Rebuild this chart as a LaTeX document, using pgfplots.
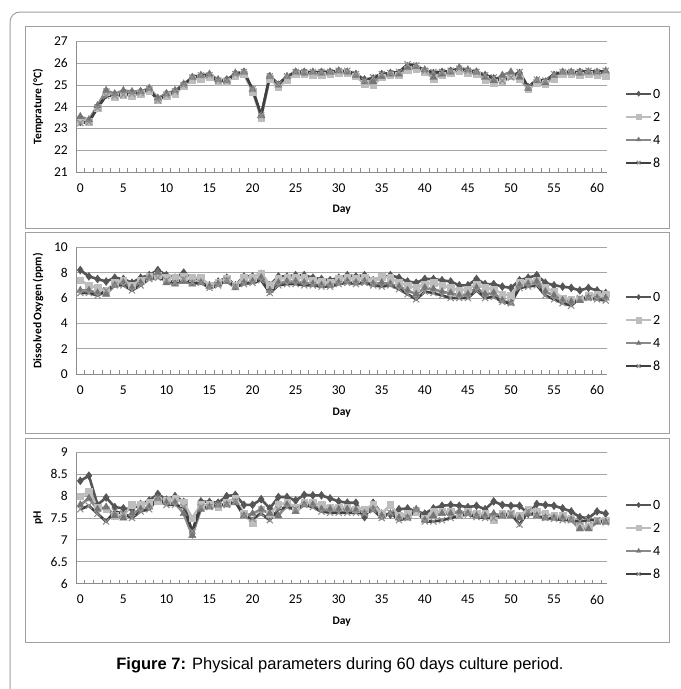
\documentclass[border=0pt]{standalone}
\usepackage{pgfplots}
\usepackage{pgfplotstable}
\pgfplotsset{compat=1.18}
\usepackage{fontspec}
\setmainfont{Carlito}
\newfontfamily\capfont{Liberation Sans}

\definecolor{cZero}{HTML}{555555}
\definecolor{cTwo}{HTML}{BDBDBD}
\definecolor{cFour}{HTML}{8A8A8A}
\definecolor{cEight}{HTML}{404040}
\definecolor{cEightX}{HTML}{8F8F8F}
\definecolor{axgray}{HTML}{8C8C8C}
\definecolor{gridgray}{HTML}{A6A6A6}
\definecolor{framegray}{HTML}{A0A0A0}

% temperature
\pgfplotstableread{
d s0 s2 s4 s8
0 23.3 23.4 23.55 23.25
1 23.35 23.3 23.4 23.3
2 24.0 23.95 24.05 23.95
3 24.55 24.7 24.75 24.5
4 24.55 24.45 24.6 24.5
5 24.6 24.55 24.75 24.55
6 24.6 24.5 24.7 24.6
7 24.7 24.6 24.7 24.65
8 24.8 24.75 24.85 24.8
9 24.35 24.3 24.4 24.3
10 24.6 24.5 24.6 24.55
11 24.7 24.6 24.75 24.7
12 25.0 24.95 25.05 25.0
13 25.35 25.25 25.35 25.35
14 25.4 25.3 25.45 25.45
15 25.45 25.35 25.5 25.45
16 25.2 25.15 25.25 25.2
17 25.25 25.15 25.2 25.2
18 25.5 25.4 25.55 25.5
19 25.6 25.5 25.6 25.6
20 24.75 24.7 24.8 24.8
21 23.6 23.5 23.6 23.6
22 25.4 25.3 25.4 25.4
23 25.0 24.9 25.0 25.05
24 25.35 25.25 25.4 25.4
25 25.6 25.5 25.6 25.6
26 25.6 25.5 25.55 25.6
27 25.55 25.45 25.6 25.6
28 25.6 25.45 25.55 25.6
29 25.6 25.5 25.6 25.6
30 25.65 25.55 25.65 25.65
31 25.6 25.55 25.6 25.65
32 25.5 25.4 25.45 25.5
33 25.25 25.05 25.15 25.2
34 25.3 25.0 25.15 25.35
35 25.5 25.35 25.4 25.5
36 25.55 25.45 25.5 25.55
37 25.55 25.45 25.5 25.6
38 25.85 25.7 25.8 25.95
39 25.85 25.75 25.85 25.9
40 25.65 25.6 25.7 25.65
41 25.55 25.3 25.35 25.6
42 25.6 25.45 25.5 25.6
43 25.65 25.55 25.6 25.65
44 25.7 25.65 25.8 25.75
45 25.65 25.55 25.7 25.65
46 25.6 25.5 25.6 25.6
47 25.45 25.25 25.35 25.45
48 25.3 25.1 25.2 25.35
49 25.2 25.2 25.45 25.2
50 25.45 25.4 25.6 25.35
51 25.55 25.3 25.35 25.6
52 24.9 24.8 24.85 24.9
53 25.2 25.1 25.2 25.25
54 25.15 25.05 25.1 25.2
55 25.45 25.3 25.45 25.5
56 25.55 25.5 25.6 25.6
57 25.55 25.5 25.6 25.6
58 25.6 25.45 25.55 25.6
59 25.6 25.5 25.6 25.65
60 25.55 25.45 25.6 25.6
61 25.6 25.4 25.65 25.65
}\temptab

% dissolved oxygen
\pgfplotstableread{
d s0 s2 s4 s8
0 8.2 7.4 6.6 6.4
1 7.7 7.0 6.6 6.4
2 7.5 6.8 6.4 6.2
3 7.3 6.6 6.3 6.6
4 7.6 7.2 7.0 7.0
5 7.5 7.4 7.2 7.0
6 7.2 7.0 6.8 6.6
7 7.6 7.4 7.2 7.0
8 7.8 7.7 7.6 7.5
9 8.2 7.8 8.0 7.6
10 7.8 7.6 7.2 7.4
11 7.6 7.6 7.1 7.2
12 8.0 7.7 7.3 7.5
13 7.5 7.6 7.1 7.2
14 7.5 7.6 7.2 7.2
15 7.0 7.0 6.9 6.8
16 7.3 7.2 7.1 7.0
17 7.6 7.5 7.3 7.4
18 7.0 7.0 6.8 6.9
19 7.7 7.6 7.2 7.1
20 7.7 7.6 7.3 7.2
21 7.9 7.9 7.6 7.4
22 7.0 7.0 6.6 6.4
23 7.7 7.5 7.2 7.0
24 7.7 7.6 7.3 7.1
25 7.8 7.6 7.3 7.1
26 7.8 7.6 7.2 7.0
27 7.6 7.4 7.1 7.0
28 7.5 7.3 7.0 6.9
29 7.4 7.2 7.0 6.9
30 7.6 7.5 7.2 7.1
31 7.8 7.6 7.3 7.2
32 7.7 7.5 7.2 7.1
33 7.8 7.6 7.3 7.2
34 7.4 7.4 7.1 7.0
35 7.6 7.7 7.2 6.9
36 7.8 7.6 7.1 7.0
37 7.6 7.2 6.9 6.7
38 7.3 7.0 6.6 6.3
39 7.2 6.8 6.3 5.9
40 7.5 7.1 6.8 6.5
41 7.5 7.2 6.7 6.4
42 7.4 7.0 6.5 6.2
43 7.3 6.8 6.4 6.0
44 7.0 6.6 6.2 6.0
45 7.0 6.7 6.3 6.0
46 7.5 7.1 6.8 6.6
47 7.1 6.8 6.3 6.0
48 7.1 6.7 6.4 6.1
49 6.9 6.3 5.8 5.7
50 6.8 6.2 5.6 5.6
51 7.4 7.2 7.0 6.8
52 7.6 7.3 7.1 6.9
53 7.8 7.4 7.3 7.0
54 7.2 6.8 6.5 6.2
55 7.0 6.5 6.2 5.9
56 6.9 6.0 5.8 5.6
57 6.8 5.9 5.7 5.4
58 6.6 5.9 5.8 6.0
59 6.8 6.2 6.0 6.0
60 6.6 6.3 6.0 5.9
61 6.4 6.3 6.0 5.8
}\dotab

% pH
\pgfplotstableread{
d s0 s2 s4 s8
0 8.35 8.0 7.8 7.7
1 8.47 8.1 7.95 7.78
2 7.8 7.75 7.7 7.6
3 7.97 7.7 7.75 7.42
4 7.75 7.55 7.55 7.65
5 7.72 7.55 7.5 7.6
6 7.7 7.8 7.6 7.5
7 7.82 7.8 7.7 7.65
8 7.9 7.85 7.75 7.7
9 8.05 7.9 7.95 7.95
10 7.92 7.9 7.85 7.8
11 8.0 7.95 7.85 7.8
12 7.87 7.85 7.6 7.75
13 7.15 7.5 7.1 7.2
14 7.88 7.8 7.7 7.75
15 7.87 7.8 7.75 7.75
16 7.85 7.75 7.8 7.8
17 8.0 7.85 7.8 7.8
18 8.03 7.95 7.85 7.88
19 7.8 7.6 7.55 7.55
20 7.8 7.38 7.6 7.48
21 7.93 7.7 7.7 7.6
22 7.72 7.6 7.6 7.45
23 7.98 7.8 7.55 7.7
24 7.98 7.85 7.8 7.75
25 7.9 7.75 7.65 7.7
26 8.03 7.85 7.8 7.8
27 8.02 7.85 7.8 7.75
28 8.02 7.8 7.7 7.65
29 7.95 7.75 7.7 7.62
30 7.88 7.75 7.7 7.62
31 7.85 7.75 7.7 7.62
32 7.85 7.7 7.68 7.62
33 7.52 7.7 7.6 7.6
34 7.85 7.8 7.7 7.68
35 7.6 7.6 7.55 7.5
36 7.58 7.8 7.6 7.62
37 7.7 7.55 7.5 7.45
38 7.72 7.6 7.5 7.5
39 7.65 7.65 7.7 7.68
40 7.6 7.5 7.45 7.42
41 7.72 7.65 7.55 7.42
42 7.78 7.65 7.6 7.45
43 7.8 7.65 7.6 7.5
44 7.78 7.6 7.65 7.55
45 7.75 7.65 7.6 7.58
46 7.78 7.6 7.55 7.52
47 7.7 7.6 7.55 7.5
48 7.88 7.45 7.6 7.5
49 7.8 7.6 7.55 7.55
50 7.78 7.6 7.55 7.6
51 7.78 7.55 7.5 7.35
52 7.6 7.7 7.6 7.65
53 7.82 7.65 7.55 7.55
54 7.8 7.6 7.5 7.5
55 7.78 7.55 7.5 7.48
56 7.72 7.55 7.5 7.45
57 7.65 7.5 7.45 7.45
58 7.52 7.3 7.25 7.42
59 7.5 7.3 7.25 7.45
60 7.65 7.45 7.4 7.45
61 7.6 7.45 7.4 7.4
}\phtab

\pgfplotsset{
  panel/.style={
    scale only axis, width=531.4bp,
    xmin=-0.5, xmax=61.2,
    axis lines*=left,
    axis line style={draw=axgray, line width=0.8bp},
    xtick={0,5,...,60},
    minor xtick={-0.5,0.5,...,60.5},
    major tick length=0pt, minor tick length=4bp, tick align=inside,
    minor tick style={draw=axgray, line width=0.6bp},
    ymajorgrids, grid style={draw=gridgray, line width=0.8bp},
    tick label style={font=\fontsize{13.5bp}{15bp}\selectfont},
    /pgf/number format/assume math mode=true,
    xticklabel style={anchor=center, yshift=-16bp},
    yticklabel style={anchor=east, inner sep=0pt, xshift=-8bp},
    xlabel=Day,
    xlabel style={at={(axis description cs:0.5,0)}, anchor=center, yshift=-38bp,
      font=\bfseries\fontsize{11.5bp}{13bp}\selectfont},
    ylabel style={at={(axis description cs:-0.0715,0.5)}, anchor=center,
      font=\bfseries\fontsize{11.5bp}{13bp}\selectfont},
    legend style={at={(axis description cs:1.033,0.336)}, anchor=west,
      draw=none, fill=none, inner sep=0pt, row sep=12bp,
      font=\fontsize{14bp}{15bp}\selectfont,
      nodes={inner sep=1bp, text height=9bp, text depth=0pt}},
    legend cell align=left,
    legend image code/.code={\draw[mark repeat=2,mark phase=2,##1,line width=2bp,mark size=2.6bp]
      plot coordinates {(0bp,0bp)(12.5bp,0bp)(25bp,0bp)};},
    clip=false,
  },
  sZero/.style={draw=cZero, line width=2.6bp, mark=diamond*, mark size=4bp,
    mark options={solid, fill=cZero, draw=cZero, line width=0.4bp}},
  sTwo/.style={draw=cTwo, line width=2.6bp, mark=square*, mark size=3.3bp,
    mark options={solid, fill=cTwo, draw=cTwo, line width=0.4bp}},
  sFour/.style={draw=cFour, line width=2.6bp, mark=triangle*, mark size=4.2bp,
    mark options={solid, fill=cFour!85!black, draw=cFour!85!black, line width=0.4bp}},
  sEight/.style={draw=cEight, line width=2.6bp, mark=x, mark size=4.3bp,
    mark options={solid, draw=cEightX, line width=1.1bp}},
}

\begin{document}
\begin{tikzpicture}
\useasboundingbox (0bp,0bp) rectangle (681bp,-689bp);
% outer frame and panel boxes
\draw[framegray, line width=1bp] (10bp,-689bp) -- (10bp,-22bp)
  arc[start angle=180, end angle=90, radius=10bp] -- (681bp,-12bp);
\draw[framegray, line width=1bp] (25.5bp,-26bp) rectangle (669bp,-228bp);
\draw[framegray, line width=1bp] (25.5bp,-232bp) rectangle (669bp,-433bp);
\draw[framegray, line width=1bp] (25.5bp,-438bp) rectangle (669bp,-642bp);

\begin{axis}[panel, at={(76bp,-172bp)}, anchor=south west, height=130.5bp,
  ymin=21, ymax=27, ytick={21,22,...,27}, ylabel={Temprature (°C)}]
  \addplot[sZero] table[x=d, y=s0] {\temptab}; \addlegendentry{0}
  \addplot[sTwo] table[x=d, y=s2] {\temptab}; \addlegendentry{2}
  \addplot[sFour] table[x=d, y=s4] {\temptab}; \addlegendentry{4}
  \addplot[sEight] table[x=d, y=s8] {\temptab}; \addlegendentry{8}
\end{axis}

\begin{axis}[panel, at={(76bp,-374.3bp)}, anchor=south west, height=127.1bp,
  ymin=0, ymax=10, ytick={0,2,...,10}, ylabel={Dissolved Oxygen (ppm)}]
  \addplot[sZero] table[x=d, y=s0] {\dotab}; \addlegendentry{0}
  \addplot[sTwo] table[x=d, y=s2] {\dotab}; \addlegendentry{2}
  \addplot[sFour] table[x=d, y=s4] {\dotab}; \addlegendentry{4}
  \addplot[sEight] table[x=d, y=s8] {\dotab}; \addlegendentry{8}
\end{axis}

\begin{axis}[panel, at={(76bp,-583.5bp)}, anchor=south west, height=131bp,
  ymin=6, ymax=9, ytick={6,6.5,...,9}, ylabel={pH}]
  \addplot[sZero] table[x=d, y=s0] {\phtab}; \addlegendentry{0}
  \addplot[sTwo] table[x=d, y=s2] {\phtab}; \addlegendentry{2}
  \addplot[sFour] table[x=d, y=s4] {\phtab}; \addlegendentry{4}
  \addplot[sEight] table[x=d, y=s8] {\phtab}; \addlegendentry{8}
\end{axis}

\node[anchor=center] at (340bp,-665bp)
  {\capfont\fontsize{16.5bp}{19bp}\selectfont\textbf{Figure 7:} Physical parameters during 60 days culture period.};
\end{tikzpicture}
\end{document}
